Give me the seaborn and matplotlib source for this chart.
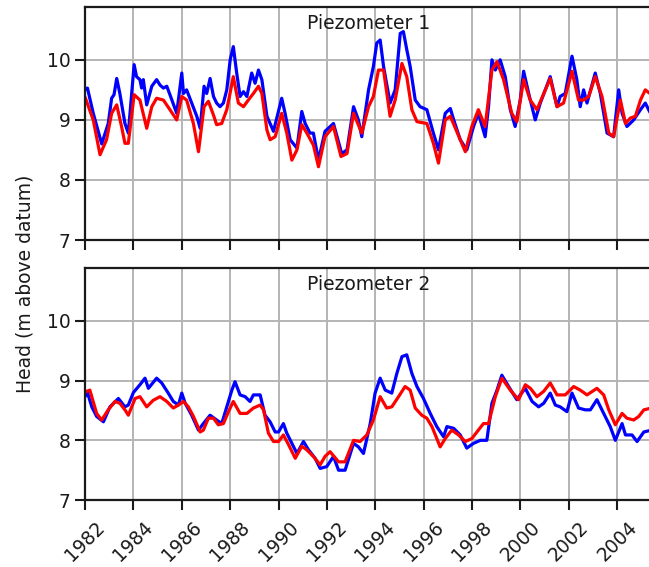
import numpy as np
import pandas as pd
import matplotlib
matplotlib.use("Agg")
import matplotlib.pyplot as plt
import seaborn as sns

# ---- Piezometer 1 ----
p1_obs_year = [1982.00, 1982.10, 1982.34, 1982.69, 1982.96, 1983.10, 1983.20, 1983.31, 1983.44, 1983.65,
               1983.79, 1984.03, 1984.13, 1984.27, 1984.34, 1984.41, 1984.55, 1984.76, 1984.96, 1985.10,
               1985.24, 1985.38, 1985.51, 1985.79, 1986.00, 1986.07, 1986.20, 1986.41, 1986.62, 1986.76,
               1986.92, 1987.03, 1987.17, 1987.31, 1987.44, 1987.58, 1987.72, 1987.86, 1988.00, 1988.13,
               1988.27, 1988.41, 1988.55, 1988.69, 1988.89, 1989.03, 1989.17, 1989.31, 1989.52, 1989.79,
               1990.13, 1990.27, 1990.48, 1990.76, 1990.96, 1991.10, 1991.30, 1991.44, 1991.65, 1991.92,
               1992.27, 1992.61, 1992.83, 1993.10, 1993.30, 1993.44, 1993.72, 1993.92, 1994.06, 1994.20,
               1994.34, 1994.61, 1994.82, 1995.03, 1995.16, 1995.30, 1995.44, 1995.65, 1995.85, 1996.13,
               1996.40, 1996.61, 1996.89, 1997.10, 1997.24, 1997.51, 1997.78, 1998.06, 1998.26, 1998.54,
               1998.68, 1998.82, 1998.96, 1999.16, 1999.37, 1999.58, 1999.78, 1999.99, 2000.13, 2000.34,
               2000.61, 2000.82, 2001.23, 2001.51, 2001.64, 2001.85, 2002.13, 2002.33, 2002.47, 2002.61,
               2002.75, 2003.09, 2003.30, 2003.58, 2003.85, 2004.06, 2004.20, 2004.40, 2004.68, 2004.96,
               2005.16, 2005.41]
p1_obs_head = [9.50, 9.53, 9.11, 8.60, 8.94, 9.36, 9.42, 9.69, 9.44, 8.94,
               8.78, 9.92, 9.72, 9.67, 9.53, 9.67, 9.25, 9.56, 9.67, 9.58,
               9.53, 9.56, 9.42, 9.11, 9.78, 9.44, 9.50, 9.28, 9.06, 8.86,
               9.56, 9.44, 9.69, 9.39, 9.28, 9.22, 9.28, 9.50, 10.00, 10.22,
               9.78, 9.39, 9.47, 9.39, 9.78, 9.61, 9.83, 9.67, 9.06, 8.81,
               9.36, 9.11, 8.67, 8.53, 9.14, 8.94, 8.78, 8.78, 8.33, 8.81,
               8.94, 8.44, 8.50, 9.22, 9.00, 8.72, 9.50, 9.89, 10.28, 10.33,
               9.89, 9.28, 9.50, 10.44, 10.47, 10.17, 9.89, 9.33, 9.22, 9.17,
               8.78, 8.50, 9.11, 9.19, 9.00, 8.67, 8.50, 8.89, 9.11, 8.72,
               9.22, 10.00, 9.83, 10.00, 9.72, 9.17, 8.89, 9.33, 9.81, 9.44,
               9.00, 9.28, 9.72, 9.22, 9.39, 9.44, 10.06, 9.67, 9.22, 9.50,
               9.28, 9.78, 9.44, 8.78, 8.72, 9.50, 9.11, 8.89, 9.00, 9.17,
               9.28, 9.08]

p1_sim_year = [1982.00, 1982.34, 1982.62, 1982.89, 1983.10, 1983.31, 1983.51, 1983.65, 1983.79, 1984.03,
               1984.27, 1984.55, 1984.76, 1984.96, 1985.24, 1985.51, 1985.79, 1986.00, 1986.20, 1986.48,
               1986.69, 1986.92, 1987.10, 1987.31, 1987.44, 1987.65, 1987.86, 1988.13, 1988.34, 1988.55,
               1988.75, 1988.96, 1989.17, 1989.31, 1989.52, 1989.65, 1989.86, 1990.13, 1990.34, 1990.55,
               1990.76, 1990.96, 1991.17, 1991.44, 1991.65, 1991.92, 1992.27, 1992.58, 1992.83, 1993.10,
               1993.44, 1993.72, 1993.92, 1994.13, 1994.34, 1994.61, 1994.82, 1995.10, 1995.30, 1995.51,
               1995.72, 1996.13, 1996.40, 1996.61, 1996.89, 1997.10, 1997.51, 1997.72, 1997.99, 1998.26,
               1998.54, 1998.82, 1999.03, 1999.30, 1999.64, 1999.85, 2000.13, 2000.40, 2000.68, 2001.23,
               2001.51, 2001.78, 2002.13, 2002.40, 2002.61, 2002.82, 2003.09, 2003.37, 2003.65, 2003.85,
               2004.13, 2004.34, 2004.54, 2004.75, 2004.96, 2005.16, 2005.41]
p1_sim_head = [9.38, 9.00, 8.42, 8.67, 9.11, 9.25, 8.89, 8.61, 8.61, 9.42,
               9.33, 8.86, 9.22, 9.36, 9.33, 9.17, 9.00, 9.39, 9.33, 8.94,
               8.47, 9.22, 9.31, 9.08, 8.92, 8.94, 9.17, 9.72, 9.28, 9.22,
               9.33, 9.44, 9.56, 9.44, 8.83, 8.67, 8.72, 9.11, 8.78, 8.33,
               8.50, 8.92, 8.78, 8.58, 8.22, 8.72, 8.89, 8.39, 8.44, 9.11,
               8.78, 9.22, 9.39, 9.83, 9.83, 9.06, 9.33, 9.94, 9.72, 9.17,
               8.97, 8.94, 8.61, 8.28, 9.00, 9.06, 8.67, 8.47, 8.89, 9.17,
               8.89, 9.83, 9.97, 9.67, 9.11, 8.97, 9.67, 9.33, 9.17, 9.69,
               9.22, 9.28, 9.81, 9.33, 9.33, 9.39, 9.72, 9.39, 8.78, 8.72,
               9.33, 8.94, 9.03, 9.06, 9.33, 9.50, 9.42]

# ---- Piezometer 2 ----
p2_obs_year = [1982.00, 1982.10, 1982.28, 1982.48, 1982.76, 1983.03, 1983.38, 1983.65, 1983.79, 1984.00,
               1984.27, 1984.48, 1984.62, 1984.96, 1985.17, 1985.44, 1985.65, 1985.86, 1986.00, 1986.14,
               1986.41, 1986.69, 1986.89, 1987.17, 1987.44, 1987.65, 1987.86, 1988.07, 1988.20, 1988.41,
               1988.62, 1988.82, 1988.96, 1989.24, 1989.44, 1989.65, 1989.86, 1990.00, 1990.20, 1990.34,
               1990.55, 1990.76, 1991.03, 1991.24, 1991.51, 1991.72, 1991.99, 1992.27, 1992.48, 1992.75,
               1993.10, 1993.30, 1993.51, 1993.79, 1993.99, 1994.20, 1994.41, 1994.68, 1994.89, 1995.10,
               1995.30, 1995.51, 1995.72, 1995.99, 1996.27, 1996.54, 1996.82, 1996.96, 1997.24, 1997.51,
               1997.78, 1998.06, 1998.34, 1998.61, 1998.82, 1999.03, 1999.23, 1999.51, 1999.85, 1999.99,
               2000.20, 2000.48, 2000.75, 2000.96, 2001.23, 2001.44, 2001.64, 2001.92, 2002.13, 2002.40,
               2002.68, 2002.89, 2003.16, 2003.44, 2003.71, 2003.92, 2004.20, 2004.34, 2004.61, 2004.82,
               2005.10, 2005.41]
p2_obs_head = [8.73, 8.80, 8.56, 8.40, 8.31, 8.56, 8.70, 8.56, 8.59, 8.80,
               8.93, 9.04, 8.87, 9.04, 8.96, 8.79, 8.65, 8.59, 8.79, 8.62,
               8.42, 8.17, 8.28, 8.42, 8.34, 8.28, 8.56, 8.84, 8.98, 8.76,
               8.73, 8.65, 8.76, 8.76, 8.42, 8.31, 8.14, 8.14, 8.28, 8.12,
               7.95, 7.78, 7.98, 7.84, 7.70, 7.53, 7.56, 7.73, 7.50, 7.50,
               7.95, 7.89, 7.78, 8.28, 8.79, 9.04, 8.84, 8.79, 9.12, 9.40,
               9.43, 9.12, 8.90, 8.70, 8.45, 8.23, 8.06, 8.23, 8.20, 8.09,
               7.87, 7.95, 8.00, 8.00, 8.62, 8.84, 9.09, 8.90, 8.68, 8.76,
               8.87, 8.65, 8.56, 8.62, 8.79, 8.59, 8.56, 8.48, 8.79, 8.54,
               8.51, 8.51, 8.68, 8.45, 8.23, 8.00, 8.28, 8.09, 8.09, 7.98,
               8.14, 8.17]

p2_sim_year = [1982.00, 1982.20, 1982.48, 1982.69, 1982.96, 1983.24, 1983.44, 1983.65, 1983.79, 1984.07,
               1984.27, 1984.55, 1984.82, 1985.10, 1985.38, 1985.65, 1985.86, 1986.07, 1986.27, 1986.48,
               1986.76, 1986.89, 1987.10, 1987.31, 1987.51, 1987.72, 1987.93, 1988.13, 1988.41, 1988.69,
               1988.96, 1989.24, 1989.38, 1989.58, 1989.79, 1990.00, 1990.20, 1990.41, 1990.69, 1990.96,
               1991.17, 1991.44, 1991.72, 1991.92, 1992.13, 1992.48, 1992.75, 1993.10, 1993.37, 1993.65,
               1993.92, 1994.20, 1994.47, 1994.68, 1994.96, 1995.23, 1995.44, 1995.65, 1995.92, 1996.13,
               1996.34, 1996.68, 1996.89, 1997.16, 1997.44, 1997.72, 1997.99, 1998.20, 1998.47, 1998.68,
               1998.96, 1999.23, 1999.58, 1999.92, 2000.20, 2000.41, 2000.68, 2000.96, 2001.23, 2001.51,
               2001.85, 2002.20, 2002.47, 2002.75, 2003.16, 2003.44, 2003.65, 2003.92, 2004.20, 2004.40,
               2004.68, 2004.89, 2005.10, 2005.41]
p2_sim_head = [8.81, 8.84, 8.45, 8.34, 8.51, 8.65, 8.62, 8.51, 8.42, 8.70,
               8.73, 8.56, 8.67, 8.73, 8.65, 8.54, 8.59, 8.65, 8.56, 8.40,
               8.14, 8.17, 8.37, 8.37, 8.26, 8.28, 8.48, 8.65, 8.45, 8.45,
               8.54, 8.59, 8.51, 8.12, 7.98, 7.98, 8.09, 7.93, 7.70, 7.90,
               7.84, 7.73, 7.59, 7.73, 7.81, 7.64, 7.64, 8.00, 7.98, 8.09,
               8.34, 8.73, 8.54, 8.56, 8.73, 8.90, 8.84, 8.54, 8.42, 8.37,
               8.23, 7.89, 8.03, 8.17, 8.09, 7.98, 8.03, 8.14, 8.28, 8.28,
               8.73, 9.04, 8.84, 8.68, 8.93, 8.87, 8.73, 8.82, 8.96, 8.76,
               8.76, 8.90, 8.84, 8.76, 8.87, 8.76, 8.51, 8.26, 8.45, 8.37,
               8.34, 8.40, 8.51, 8.54]

panel_titles = ["Piezometer 1", "Piezometer 2"]
y_label = "Head (m above datum)"
year_ticks = list(range(1982, 2005, 2))
head_ticks = [7, 8, 9, 10]


def long_frame(obs_year, obs_head, sim_year, sim_head):
    obs = pd.DataFrame({"year": obs_year, "head": obs_head, "series": "observed"})
    sim = pd.DataFrame({"year": sim_year, "head": sim_head, "series": "simulated"})
    return pd.concat([obs, sim], ignore_index=True)


panels = [
    long_frame(p1_obs_year, p1_obs_head, p1_sim_year, p1_sim_head),
    long_frame(p2_obs_year, p2_obs_head, p2_sim_year, p2_sim_head),
]

sns.set_style("ticks")
plt.rcParams["font.family"] = ["DejaVu Sans"]
FS = 13.5

fig = plt.figure(figsize=(6.49, 5.67), dpi=100)
# Axes run slightly past the right edge of the figure
ax_top = fig.add_axes([0.131, 0.5767, 0.873, 0.411])
ax_bot = fig.add_axes([0.131, 0.118, 0.873, 0.409], sharex=ax_top)

for ax, df, title in zip([ax_top, ax_bot], panels, panel_titles):
    sns.lineplot(data=df, x="year", y="head", hue="series",
                 palette={"observed": "#0000ff", "simulated": "#ff0000"},
                 hue_order=["observed", "simulated"],
                 estimator=None, sort=True, lw=2.3, legend=False, ax=ax)
    ax.set_xticks(year_ticks)
    ax.set_yticks(head_ticks)
    ax.set_xlim(1982, 2005.42)
    ax.set_ylim(7, 10.88)
    ax.grid(True, color="#b4b4b4", lw=1.4)
    ax.set_axisbelow(True)
    for side in ["left", "bottom", "top", "right"]:
        ax.spines[side].set_color("#1a1a1a")
        ax.spines[side].set_linewidth(1.6)
    ax.tick_params(axis="both", direction="out", length=7, width=1.5,
                   labelsize=FS, colors="#1a1a1a", top=False, right=False)
    ax.set_xlabel("")
    ax.set_ylabel("")
    ax.text(0.5, 0.97, title, transform=ax.transAxes, ha="center", va="top",
            fontsize=FS, color="#1a1a1a")

ax_top.tick_params(axis="x", labelbottom=False)
ax_bot.tick_params(axis="x", pad=6)
for lab in ax_bot.get_xticklabels():
    lab.set_rotation(45)
    lab.set_ha("center")

fig.text(0.038, 0.5, y_label, rotation=90, ha="center", va="center",
         fontsize=FS, color="#1a1a1a")

fig.savefig("out.png", dpi=100)
